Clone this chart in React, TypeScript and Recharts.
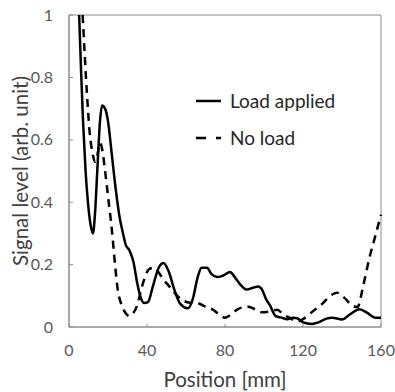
import {
  LineChart,
  Line,
  XAxis,
  YAxis,
  Legend,
  ReferenceArea,
} from "recharts";

const xTicks = [0, 40, 80, 120, 160];
const yTicks = [0, 0.2, 0.4, 0.6, 0.8, 1];

// Load applied (solid)
const loadX = [
  5.2, 6.2, 7.2, 8.5, 9.7, 11, 12.3, 13.3, 14.5, 15.9, 17, 18.5, 20, 22, 24, 26,
  27.7, 29, 31, 33, 35, 36.5, 38.5, 40.5, 43, 46, 48.5, 51, 54, 57, 61, 63.5, 66,
  68, 70.8, 73, 76, 79, 82.6, 85, 88, 91, 94, 97, 99, 101, 103, 106, 109, 112,
  115, 117, 120, 124.6, 128, 132, 135, 140, 144, 149, 153, 157, 160,
];
const loadY = [
  1.0, 0.82, 0.66, 0.5, 0.4, 0.33, 0.3, 0.36, 0.5, 0.66, 0.71, 0.7, 0.66, 0.55,
  0.44, 0.35, 0.3, 0.265, 0.245, 0.21, 0.14, 0.1, 0.077, 0.08, 0.13, 0.19, 0.205,
  0.18, 0.12, 0.075, 0.06, 0.09, 0.16, 0.19, 0.19, 0.17, 0.16, 0.165, 0.176, 0.16,
  0.135, 0.12, 0.125, 0.13, 0.12, 0.09, 0.07, 0.035, 0.03, 0.025, 0.03, 0.028,
  0.015, 0.01, 0.015, 0.027, 0.03, 0.024, 0.04, 0.057, 0.045, 0.03, 0.03,
];

// No load (dashed)
const noLoadX = [
  7, 8, 8.7, 9.7, 10.5, 12, 13.3, 14.5, 15.9, 17, 18.5, 20, 22, 23.6, 25, 27, 29,
  31, 33, 35, 37, 39, 41, 43.5, 46, 48, 50.8, 54, 58, 62, 65.6, 70, 74, 77, 80,
  83, 86, 89, 92, 96, 99, 103, 106.7, 110, 113, 117, 120, 123, 127, 130, 134,
  137.4, 141, 145, 148, 150.8, 154, 157, 160,
];
const noLoadY = [
  1.0, 0.88, 0.8, 0.7, 0.63, 0.56, 0.53, 0.55, 0.59, 0.57, 0.5, 0.42, 0.31, 0.2,
  0.12, 0.07, 0.045, 0.035, 0.045, 0.07, 0.12, 0.16, 0.185, 0.19, 0.175, 0.155,
  0.135, 0.11, 0.087, 0.078, 0.077, 0.065, 0.055, 0.04, 0.03, 0.04, 0.055, 0.063,
  0.065, 0.055, 0.047, 0.05, 0.055, 0.04, 0.03, 0.018, 0.025, 0.04, 0.06, 0.075,
  0.1, 0.11, 0.095, 0.07, 0.064, 0.13, 0.22, 0.29, 0.36,
];

const loadData = loadX.map((x, i) => ({ x, y: loadY[i] }));
const noLoadData = noLoadX.map((x, i) => ({ x, y: noLoadY[i] }));

const font = "Lato, 'Open Sans', sans-serif";
const axisColor = "#8c8c8c";
const tickStyle = { fill: "#595959", fontSize: 16, fontFamily: font };

function LegendBox() {
  const rows = [
    { name: "Load applied", dash: undefined },
    { name: "No load", dash: "10 10" },
  ];
  return (
    <div style={{ fontFamily: font, fontSize: 19, color: "#262626" }}>
      {rows.map((r) => (
        <div
          key={r.name}
          style={{ display: "flex", alignItems: "center", height: 37 }}
        >
          <svg width={34} height={10}>
            <line
              x1={0}
              y1={5}
              x2={25}
              y2={5}
              stroke="#000"
              strokeWidth={2.5}
              strokeDasharray={r.dash}
            />
          </svg>
          <span>{r.name}</span>
        </div>
      ))}
    </div>
  );
}

export default function App() {
  return (
    <div style={{ position: "absolute", left: 0, top: 0 }}>
      <LineChart
        width={395}
        height={392}
        margin={{ top: 15, right: 14, left: 0, bottom: 0 }}
      >
        <XAxis
          dataKey="x"
          type="number"
          domain={[0, 160]}
          ticks={xTicks}
          stroke={axisColor}
          tickSize={-3}
          tickMargin={21}
          tick={tickStyle}
          height={65}
          label={{
            content: (props: any) => {
              const vb = props.viewBox;
              return (
                <text
                  x={vb.x + vb.width / 2}
                  y={vb.y + vb.height - 5}
                  textAnchor="middle"
                  fill="#404040"
                  fontSize={20.5}
                  fontFamily={font}
                >
                  Position [mm]
                </text>
              );
            },
          }}
        />
        <YAxis
          dataKey="y"
          type="number"
          domain={[0, 1]}
          ticks={yTicks}
          stroke={axisColor}
          tickSize={-4}
          tickMargin={20}
          tick={tickStyle}
          width={69}
          label={{
            content: (props: any) => {
              const vb = props.viewBox;
              const cx = vb.x + 20;
              const cy = vb.y + vb.height / 2;
              return (
                <text
                  x={cx}
                  y={cy}
                  transform={`rotate(-90 ${cx} ${cy})`}
                  textAnchor="middle"
                  dominantBaseline="central"
                  fill="#404040"
                  fontSize={20.5}
                  fontFamily={font}
                >
                  Signal level (arb. unit)
                </text>
              );
            },
          }}
        />
        <ReferenceArea
          x1={0}
          x2={160}
          y1={0}
          y2={1}
          fill="none"
          stroke={axisColor}
          strokeWidth={1}
        />
        <Legend
          layout="vertical"
          align="center"
          verticalAlign="middle"
          content={() => <LegendBox />}
          wrapperStyle={{ position: "absolute", left: 196, top: 82, width: 170 }}
        />
        <Line
          data={loadData}
          dataKey="y"
          name="Load applied"
          type="monotone"
          stroke="#000"
          strokeWidth={2.5}
          dot={false}
          isAnimationActive={false}
        />
        <Line
          data={noLoadData}
          dataKey="y"
          name="No load"
          type="monotone"
          stroke="#000"
          strokeWidth={2.5}
          strokeDasharray="8 6"
          dot={false}
          isAnimationActive={false}
        />
      </LineChart>
    </div>
  );
}
